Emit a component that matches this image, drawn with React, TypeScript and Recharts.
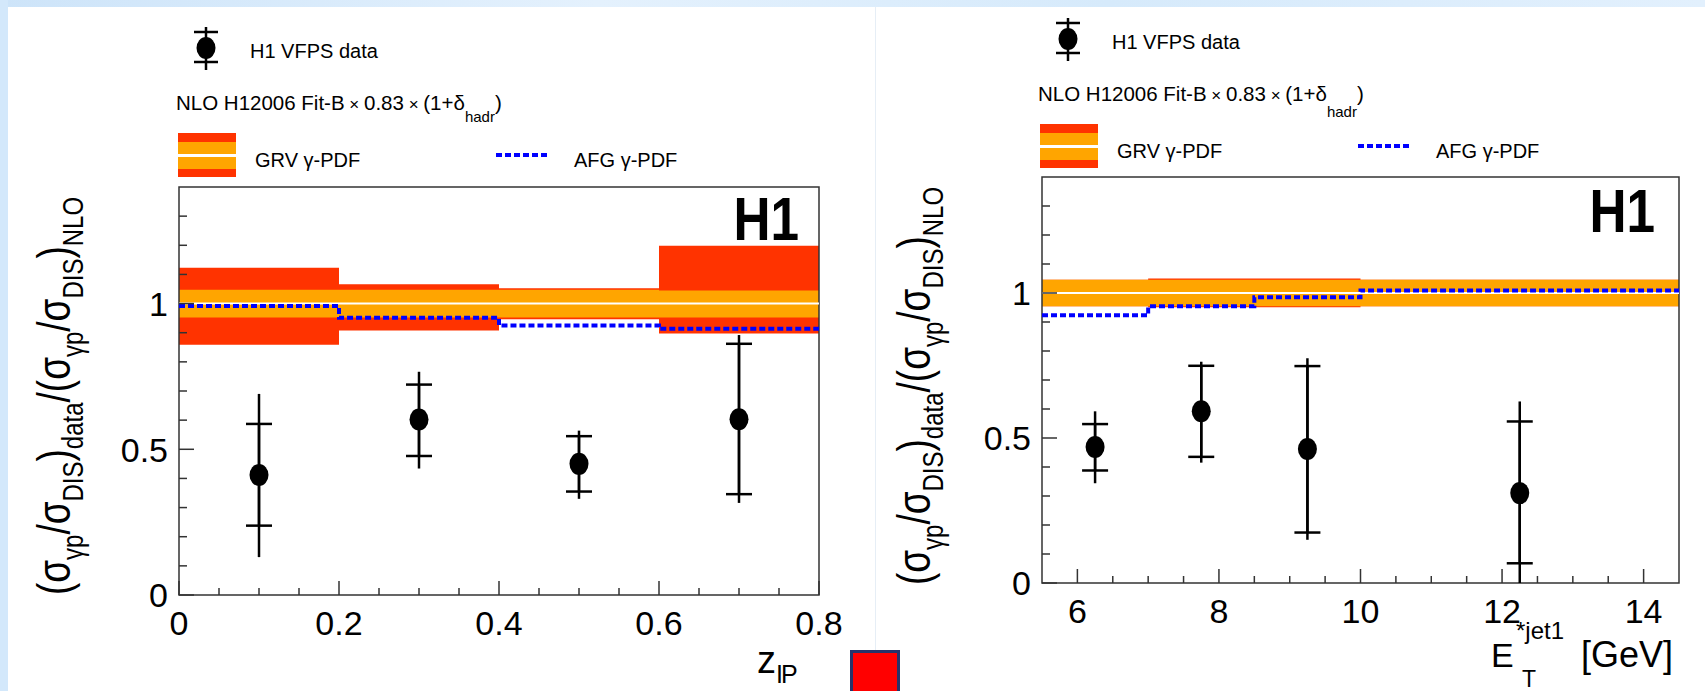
import {
  Area,
  ComposedChart,
  ErrorBar,
  Line,
  ReferenceArea,
  ReferenceLine,
  Scatter,
  XAxis,
  YAxis,
} from "recharts";

const FONT = '"Liberation Sans", Arial, sans-serif';

// ---- left panel: z_IP ----
const zpEdges = [0, 0.2, 0.4, 0.6, 0.8];
const zpRedLo = [0.859, 0.908, 0.946, 0.897];
const zpRedHi = [1.123, 1.066, 1.053, 1.198];
const zpOrangeLo = [0.952, 0.952, 0.952, 0.952];
const zpOrangeHi = [1.047, 1.047, 1.047, 1.045];
const zpAfg = [0.992, 0.951, 0.925, 0.914];
const zpX = [0.1, 0.3, 0.5, 0.7];
const zpData = [0.412, 0.602, 0.45, 0.603];
const zpStatLo = [0.238, 0.477, 0.355, 0.346];
const zpStatHi = [0.587, 0.722, 0.545, 0.862];
const zpTotLo = [0.13, 0.434, 0.33, 0.316];
const zpTotHi = [0.69, 0.766, 0.564, 0.892];
const zpTicks = [0, 0.05, 0.1, 0.15, 0.2, 0.25, 0.3, 0.35, 0.4, 0.45, 0.5, 0.55, 0.6, 0.65, 0.7, 0.75, 0.8];
const zpLabels = ["0", "0.2", "0.4", "0.6", "0.8"];

// ---- right panel: E_T*jet1 ----
const etEdges = [5.5, 7, 8.5, 10, 14.5];
const etRedLo = [0.954, 0.951, 0.951, 0.954];
const etRedHi = [1.046, 1.05, 1.05, 1.046];
const etOrangeLo = [0.954, 0.954, 0.954, 0.954];
const etOrangeHi = [1.046, 1.046, 1.046, 1.046];
const etAfg = [0.923, 0.954, 0.985, 1.009];
const etX = [6.25, 7.75, 9.25, 12.25];
const etData = [0.469, 0.592, 0.462, 0.31];
const etStatLo = [0.388, 0.435, 0.174, 0.068];
const etStatHi = [0.548, 0.749, 0.748, 0.557];
const etTotLo = [0.344, 0.415, 0.149, 0.0];
const etTotHi = [0.592, 0.763, 0.775, 0.626];
const etTicks = [6, 6.5, 7, 7.5, 8, 8.5, 9, 9.5, 10, 10.5, 11, 11.5, 12, 12.5, 13, 13.5, 14];
const etLabels = ["6", "8", "10", "12", "14"];

const yTicks = [0, 0.1, 0.2, 0.3, 0.4, 0.5, 0.6, 0.7, 0.8, 0.9, 1, 1.1, 1.2, 1.3];
const yLabels = ["0", "0.5", "1"];

function bandRows(edges: number[], rLo: number[], rHi: number[], oLo: number[], oHi: number[], afg: number[]) {
  return edges.map((x, i) => {
    const k = Math.min(i, rLo.length - 1);
    return { x, red: [rLo[k], rHi[k]], orange: [oLo[k], oHi[k]], afg: afg[k] };
  });
}

function pointRows(xs: number[], ys: number[], sLo: number[], sHi: number[], tLo: number[], tHi: number[]) {
  return xs.map((x, i) => ({
    x,
    y: ys[i],
    stat: [ys[i] - sLo[i], sHi[i] - ys[i]],
    tot: [ys[i] - tLo[i], tHi[i] - ys[i]],
  }));
}

const TICK_COLOR = "#333";

function makeXTick(labels: string[]) {
  return (p: any) => {
    const { x, y, payload } = p;
    const txt = String(payload.value);
    const major = labels.includes(txt);
    return (
      <g>
        <line x1={x} x2={x} y1={y} y2={y - (major ? 14 : 7)} stroke={TICK_COLOR} strokeWidth={1.5} />
        {major ? (
          <text x={x} y={y + 40} textAnchor="middle" fontSize={34} fontFamily={FONT} fill="#000">
            {txt}
          </text>
        ) : null}
      </g>
    );
  };
}

function renderYTick(p: any) {
  const { x, y, payload } = p;
  const txt = String(payload.value);
  const major = yLabels.includes(txt);
  return (
    <g>
      <line x1={x} x2={x + (major ? 15 : 8)} y1={y} y2={y} stroke={TICK_COLOR} strokeWidth={1.5} />
      {major ? (
        <text x={x - 11} y={y} dy="0.36em" textAnchor="end" fontSize={34} fontFamily={FONT} fill="#000">
          {txt}
        </text>
      ) : null}
    </g>
  );
}

type PanelProps = {
  bands: ReturnType<typeof bandRows>;
  points: ReturnType<typeof pointRows>;
  xDomain: [number, number];
  xTicks: number[];
  xLabels: string[];
  width: number;
  yAxisWidth: number;
  xAxisHeight: number;
};

function RatioPanel({ bands, points, xDomain, xTicks, xLabels, width, yAxisWidth, xAxisHeight }: PanelProps) {
  return (
    <ComposedChart width={width} height={480} margin={{ top: 17, right: 41, bottom: 0, left: 0 }}>
      <XAxis
        type="number"
        dataKey="x"
        domain={xDomain}
        allowDataOverflow
        ticks={xTicks}
        interval={0}
        tickSize={0}
        tickMargin={0}
        axisLine={false}
        tickLine={false}
        height={xAxisHeight}
        tick={makeXTick(xLabels)}
      />
      <YAxis
        type="number"
        domain={[0, 1.4]}
        allowDataOverflow
        ticks={yTicks}
        interval={0}
        tickSize={0}
        tickMargin={0}
        axisLine={false}
        tickLine={false}
        width={yAxisWidth}
        tick={renderYTick}
      />
      <Area data={bands} dataKey="red" type="stepAfter" fill="#ff3300" fillOpacity={1} stroke="none" isAnimationActive={false} />
      <Area data={bands} dataKey="orange" type="stepAfter" fill="#ffa500" fillOpacity={1} stroke="none" isAnimationActive={false} />
      <ReferenceLine y={1} stroke="#ffffff" strokeWidth={2} />
      <Line
        data={bands}
        dataKey="afg"
        type="stepAfter"
        stroke="#0000ff"
        strokeWidth={4}
        strokeDasharray="6 3"
        dot={false}
        isAnimationActive={false}
      />
      <Scatter
        data={points}
        dataKey="y"
        fill="#000"
        isAnimationActive={false}
        shape={(p: any) => <ellipse cx={p.cx} cy={p.cy} rx={9.5} ry={11} fill="#000" />}
      >
        <ErrorBar dataKey="tot" direction="y" width={0} stroke="#000" strokeWidth={2.5} isAnimationActive={false} />
        <ErrorBar dataKey="stat" direction="y" width={13} stroke="#000" strokeWidth={2.5} isAnimationActive={false} />
      </Scatter>
      <ReferenceArea x1={xDomain[0]} x2={xDomain[1]} y1={0} y2={1.4} fill="none" stroke="#333" strokeWidth={1.5} />
    </ComposedChart>
  );
}

// legend block, drawn relative to the GRV box corner (bx, by)
function PanelLegend({ bx, by, hadrDy }: { bx: number; by: number; hadrDy: number }) {
  const mx = bx + 28;
  return (
    <g fontFamily={FONT} fill="#000">
      <line x1={mx} x2={mx} y1={by - 106} y2={by - 63} stroke="#000" strokeWidth={2.5} />
      <line x1={mx - 12} x2={mx + 12} y1={by - 101} y2={by - 101} stroke="#000" strokeWidth={2.5} />
      <line x1={mx - 12} x2={mx + 12} y1={by - 71} y2={by - 71} stroke="#000" strokeWidth={2.5} />
      <ellipse cx={mx} cy={by - 85} rx={9.5} ry={11} fill="#000" />
      <text x={bx + 72} y={by - 75} fontSize={20}>H1 VFPS data</text>
      <text x={bx - 2} y={by - 23} fontSize={20.5}>
        NLO H12006 Fit-B<tspan fontSize={17}> × </tspan>0.83<tspan fontSize={17}> × </tspan>(1+δ
        <tspan fontSize={15} dy={hadrDy}>hadr</tspan>
        <tspan dy={-hadrDy}>)</tspan>
      </text>
      <rect x={bx} y={by} width={58} height={44} fill="#ff3300" />
      <rect x={bx} y={by + 9} width={58} height={27} fill="#ffa500" />
      <rect x={bx} y={by + 21} width={58} height={3} fill="#ffffff" />
      <text x={bx + 77} y={by + 34} fontSize={20}>GRV γ-PDF</text>
      <line x1={bx + 318} x2={bx + 372} y1={by + 22} y2={by + 22} stroke="#0000ff" strokeWidth={4} strokeDasharray="6 3" />
      <text x={bx + 396} y={by + 34} fontSize={20}>AFG γ-PDF</text>
    </g>
  );
}

function YTitle({ x, y }: { x: number; y: number }) {
  const s = 24;
  const d = 10;
  return (
    <text
      transform={`translate(${x},${y}) rotate(-90) scale(1,1.25)`}
      textAnchor="middle"
      fontFamily={FONT}
      fontSize={37}
      fill="#000"
    >
      (σ<tspan fontSize={s} dy={d}>γp</tspan>
      <tspan dy={-d}>/σ</tspan>
      <tspan fontSize={s} dy={d}>DIS</tspan>
      <tspan dy={-d}>)</tspan>
      <tspan fontSize={s} dy={d}>data</tspan>
      <tspan dy={-d}>/(σ</tspan>
      <tspan fontSize={s} dy={d}>γp</tspan>
      <tspan dy={-d}>/σ</tspan>
      <tspan fontSize={s} dy={d}>DIS</tspan>
      <tspan dy={-d}>)</tspan>
      <tspan fontSize={s} dy={d}>NLO</tspan>
    </text>
  );
}

export default function App() {
  const zpBands = bandRows(zpEdges, zpRedLo, zpRedHi, zpOrangeLo, zpOrangeHi, zpAfg);
  const zpPoints = pointRows(zpX, zpData, zpStatLo, zpStatHi, zpTotLo, zpTotHi);
  const etBands = bandRows(etEdges, etRedLo, etRedHi, etOrangeLo, etOrangeHi, etAfg);
  const etPoints = pointRows(etX, etData, etStatLo, etStatHi, etTotLo, etTotHi);

  return (
    <div
      style={{
        position: "fixed",
        left: 0,
        top: 0,
        width: 1705,
        height: 691,
        background: "#ffffff",
        overflow: "hidden",
        fontFamily: FONT,
      }}
    >
      <div
        style={{
          position: "absolute",
          left: 0,
          top: 0,
          width: 1705,
          height: 7,
          background: "linear-gradient(90deg, #cde4f9 0%, #e4f1fd 35%, #d6eafb 65%, #e2f0fd 100%)",
        }}
      />
      <div style={{ position: "absolute", left: 0, top: 0, width: 8, height: 691, background: "#d3e8fb" }} />
      <div style={{ position: "absolute", left: 875, top: 7, width: 1, height: 684, background: "#e6eef6" }} />

      <div style={{ position: "absolute", left: 100, top: 170 }}>
        <RatioPanel
          bands={zpBands}
          points={zpPoints}
          xDomain={[0, 0.8]}
          xTicks={zpTicks}
          xLabels={zpLabels}
          width={760}
          yAxisWidth={79}
          xAxisHeight={55}
        />
      </div>
      <div style={{ position: "absolute", left: 940, top: 160 }}>
        <RatioPanel
          bands={etBands}
          points={etPoints}
          xDomain={[5.5, 14.5]}
          xTicks={etTicks}
          xLabels={etLabels}
          width={780}
          yAxisWidth={102}
          xAxisHeight={57}
        />
      </div>

      <svg width={1705} height={691} style={{ position: "absolute", left: 0, top: 0, pointerEvents: "none" }}>
        <PanelLegend bx={178} by={133} hadrDy={12} />
        <PanelLegend bx={1040} by={124} hadrDy={16} />

        <text transform="translate(799,240) scale(0.95,1.14)" textAnchor="end" fontFamily={FONT} fontSize={54} fontWeight="bold" fill="#000">H1</text>
        <text transform="translate(1655,232) scale(0.95,1.14)" textAnchor="end" fontFamily={FONT} fontSize={54} fontWeight="bold" fill="#000">H1</text>

        <YTitle x={70} y={396} />
        <YTitle x={930} y={386} />

        <text x={757} y={673} fontFamily={FONT} fontSize={38} fill="#000">
          z<tspan fontSize={25} dy={10} letterSpacing={-2}>IP</tspan>
        </text>

        <g fontFamily={FONT} fill="#000">
          <text x={1491} y={667} fontSize={34}>E</text>
          <text x={1516} y={639} fontSize={24}>*jet1</text>
          <text x={1522} y={687} fontSize={23}>T</text>
          <text x={1581} y={667} fontSize={36}>[GeV]</text>
        </g>
      </svg>

      <div
        style={{
          position: "absolute",
          left: 850,
          top: 650,
          width: 44,
          height: 50,
          background: "#ff0000",
          border: "3px solid #26336a",
        }}
      />
    </div>
  );
}
